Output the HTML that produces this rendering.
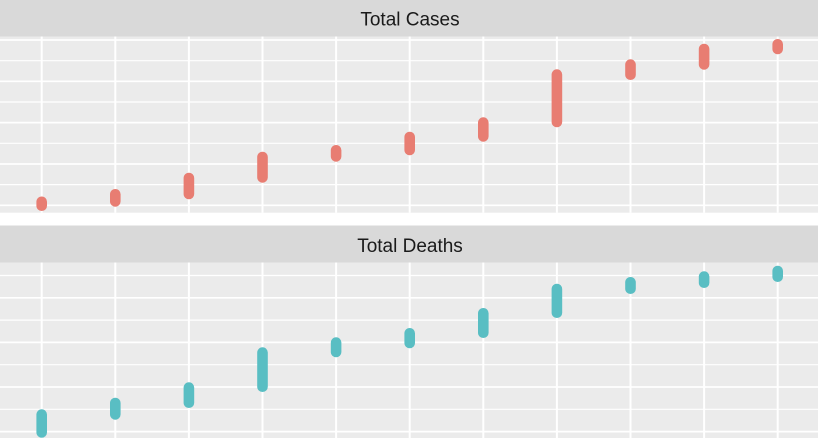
<!DOCTYPE html>
<html><head><meta charset="utf-8"><style>
html,body{margin:0;padding:0;background:#fff;}
svg{display:block;}
text{font-family:"Liberation Sans",Arial,sans-serif;font-size:19px;fill:#1a1a1a;}
</style></head><body>
<svg width="818" height="438" viewBox="0 0 818 438" xmlns="http://www.w3.org/2000/svg">
<rect x="0" y="0" width="818" height="438" fill="#fff"/>
<!-- strip 1 -->
<rect x="0" y="0" width="818" height="36.5" fill="#d9d9d9"/>
<text x="410" y="25.5" text-anchor="middle">Total Cases</text>
<!-- panel 1 -->
<rect x="0" y="36.5" width="818" height="176.2" fill="#ebebeb"/>
<g stroke="#fff">
<line x1="0" x2="818" y1="40" y2="40" stroke-width="1.7"/>
<line x1="0" x2="818" y1="60.7" y2="60.7" stroke-width="1.2"/>
<line x1="0" x2="818" y1="81.3" y2="81.3" stroke-width="1.7"/>
<line x1="0" x2="818" y1="102" y2="102" stroke-width="1.2"/>
<line x1="0" x2="818" y1="122.6" y2="122.6" stroke-width="1.7"/>
<line x1="0" x2="818" y1="143.3" y2="143.3" stroke-width="1.2"/>
<line x1="0" x2="818" y1="164" y2="164" stroke-width="1.7"/>
<line x1="0" x2="818" y1="184.6" y2="184.6" stroke-width="1.2"/>
<line x1="0" x2="818" y1="205.3" y2="205.3" stroke-width="1.7"/>
</g>
<g stroke="#fff" stroke-width="2">
<line x1="41.7" x2="41.7" y1="36.5" y2="212.7"/>
<line x1="115.3" x2="115.3" y1="36.5" y2="212.7"/>
<line x1="188.9" x2="188.9" y1="36.5" y2="212.7"/>
<line x1="262.5" x2="262.5" y1="36.5" y2="212.7"/>
<line x1="336.1" x2="336.1" y1="36.5" y2="212.7"/>
<line x1="409.7" x2="409.7" y1="36.5" y2="212.7"/>
<line x1="483.3" x2="483.3" y1="36.5" y2="212.7"/>
<line x1="556.9" x2="556.9" y1="36.5" y2="212.7"/>
<line x1="630.5" x2="630.5" y1="36.5" y2="212.7"/>
<line x1="704.1" x2="704.1" y1="36.5" y2="212.7"/>
<line x1="777.7" x2="777.7" y1="36.5" y2="212.7"/>
</g>
<g stroke="#e87d72" stroke-width="10.6" stroke-linecap="round">
<line x1="41.7" x2="41.7" y1="201.8" y2="205.7"/>
<line x1="115.3" x2="115.3" y1="194.3" y2="201.4"/>
<line x1="188.9" x2="188.9" y1="178" y2="194"/>
<line x1="262.5" x2="262.5" y1="157" y2="177.4"/>
<line x1="336.1" x2="336.1" y1="150.3" y2="156.4"/>
<line x1="409.7" x2="409.7" y1="137" y2="150"/>
<line x1="483.3" x2="483.3" y1="122.6" y2="136.4"/>
<line x1="556.9" x2="556.9" y1="74.6" y2="122"/>
<line x1="630.5" x2="630.5" y1="64.6" y2="74.7"/>
<line x1="704.1" x2="704.1" y1="49" y2="64.4"/>
<line x1="777.7" x2="777.7" y1="44.3" y2="49"/>
</g>
<!-- strip 2 -->
<rect x="0" y="225.5" width="818" height="37" fill="#d9d9d9"/>
<text x="410" y="252" text-anchor="middle">Total Deaths</text>
<!-- panel 2 -->
<rect x="0" y="262.5" width="818" height="175.5" fill="#ebebeb"/>
<g stroke="#fff">
<line x1="0" x2="818" y1="275.5" y2="275.5" stroke-width="1.2"/>
<line x1="0" x2="818" y1="297.8" y2="297.8" stroke-width="1.7"/>
<line x1="0" x2="818" y1="320.1" y2="320.1" stroke-width="1.2"/>
<line x1="0" x2="818" y1="342.4" y2="342.4" stroke-width="1.7"/>
<line x1="0" x2="818" y1="364.7" y2="364.7" stroke-width="1.2"/>
<line x1="0" x2="818" y1="387" y2="387" stroke-width="1.7"/>
<line x1="0" x2="818" y1="409.3" y2="409.3" stroke-width="1.2"/>
<line x1="0" x2="818" y1="431.6" y2="431.6" stroke-width="1.7"/>
</g>
<g stroke="#fff" stroke-width="2">
<line x1="41.7" x2="41.7" y1="262.5" y2="438"/>
<line x1="115.3" x2="115.3" y1="262.5" y2="438"/>
<line x1="188.9" x2="188.9" y1="262.5" y2="438"/>
<line x1="262.5" x2="262.5" y1="262.5" y2="438"/>
<line x1="336.1" x2="336.1" y1="262.5" y2="438"/>
<line x1="409.7" x2="409.7" y1="262.5" y2="438"/>
<line x1="483.3" x2="483.3" y1="262.5" y2="438"/>
<line x1="556.9" x2="556.9" y1="262.5" y2="438"/>
<line x1="630.5" x2="630.5" y1="262.5" y2="438"/>
<line x1="704.1" x2="704.1" y1="262.5" y2="438"/>
<line x1="777.7" x2="777.7" y1="262.5" y2="438"/>
</g>
<g stroke="#59bec3" stroke-width="10.6" stroke-linecap="round">
<line x1="41.7" x2="41.7" y1="414.6" y2="432.4"/>
<line x1="115.3" x2="115.3" y1="403" y2="414.4"/>
<line x1="188.9" x2="188.9" y1="387.6" y2="402.7"/>
<line x1="262.5" x2="262.5" y1="352.6" y2="386.7"/>
<line x1="336.1" x2="336.1" y1="342.6" y2="352"/>
<line x1="409.7" x2="409.7" y1="333.3" y2="343"/>
<line x1="483.3" x2="483.3" y1="313.3" y2="332.7"/>
<line x1="556.9" x2="556.9" y1="289" y2="312.7"/>
<line x1="630.5" x2="630.5" y1="282.3" y2="288.7"/>
<line x1="704.1" x2="704.1" y1="276.6" y2="282.7"/>
<line x1="777.7" x2="777.7" y1="271" y2="276.7"/>
</g>
</svg>
</body></html>
